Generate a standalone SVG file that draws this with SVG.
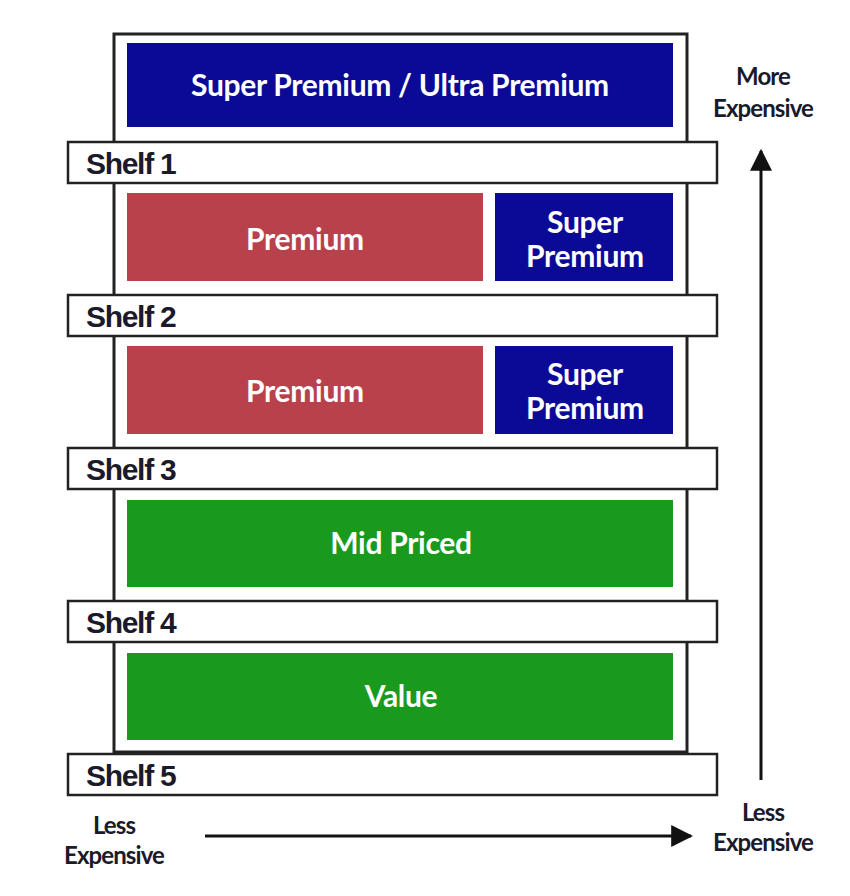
<svg xmlns="http://www.w3.org/2000/svg" width="850" height="896" viewBox="0 0 850 896">
<style>
.frame{fill:#fff;stroke:#222;stroke-width:3}
.shelf{fill:#fff;stroke:#222;stroke-width:2.5}
.blue{fill:#0b0a96}
.red{fill:#b8414c}
.green{fill:#1a9a1d}
.lbl{font-family:Lato,"Liberation Sans",sans-serif;font-weight:bold;fill:#fff;text-anchor:middle;font-size:30px;letter-spacing:-0.3px}
.sh{font-family:"Liberation Sans",Arial,sans-serif;font-weight:bold;font-size:30px;fill:#1a1a2a;letter-spacing:-1.3px}
.side{font-family:Lato,"Liberation Sans",sans-serif;font-weight:bold;font-size:24px;fill:#1a1a2a;text-anchor:middle;letter-spacing:-0.9px}
.arr{stroke:#111;stroke-width:3;fill:none}
</style>
<defs>
<marker id="ah" viewBox="0 0 10 10" refX="9" refY="5" markerWidth="22" markerHeight="22" markerUnits="userSpaceOnUse" orient="auto">
<path d="M0,0 L10,5 L0,10 Z" fill="#111"/>
</marker>
</defs>
<rect width="850" height="896" fill="#fff"/>
<g id="frame"><rect class="frame" x="114" y="34" width="573" height="718"/></g>
<g id="top-block"><rect class="blue" x="127" y="43" width="546" height="84"/><text class="lbl" x="400" y="96">Super Premium / Ultra Premium</text></g>
<g id="shelf1"><rect class="shelf" x="68" y="142" width="649" height="41"/><text class="sh" x="86" y="174">Shelf 1</text></g>
<g id="premium1"><rect class="red" x="127" y="193" width="356" height="88"/><text class="lbl" x="305" y="250">Premium</text></g>
<g id="super1"><rect class="blue" x="495" y="193" width="178" height="88"/><text class="lbl" x="585" y="233">Super</text><text class="lbl" x="585" y="267">Premium</text></g>
<g id="shelf2"><rect class="shelf" x="68" y="295" width="649" height="41"/><text class="sh" x="86" y="327">Shelf 2</text></g>
<g id="premium2"><rect class="red" x="127" y="346" width="356" height="88"/><text class="lbl" x="305" y="402">Premium</text></g>
<g id="super2"><rect class="blue" x="495" y="346" width="178" height="88"/><text class="lbl" x="585" y="385">Super</text><text class="lbl" x="585" y="419">Premium</text></g>
<g id="shelf3"><rect class="shelf" x="68" y="448" width="649" height="41"/><text class="sh" x="86" y="480">Shelf 3</text></g>
<g id="mid"><rect class="green" x="127" y="500" width="546" height="87"/><text class="lbl" x="401" y="554">Mid Priced</text></g>
<g id="shelf4"><rect class="shelf" x="68" y="601" width="649" height="41"/><text class="sh" x="86" y="633">Shelf 4</text></g>
<g id="value"><rect class="green" x="127" y="653" width="546" height="87"/><text class="lbl" x="401" y="707">Value</text></g>
<g id="shelf5"><rect class="shelf" x="68" y="754" width="649" height="41"/><text class="sh" x="86" y="786">Shelf 5</text></g>
<g id="connectors">
<line class="arr" x1="761" y1="780" x2="761" y2="151" marker-end="url(#ah)"/>
<line class="arr" x1="205" y1="836" x2="691" y2="836" marker-end="url(#ah)"/>
</g>
<g id="labels">
<text class="side" x="763" y="85">More</text>
<text class="side" x="763" y="117">Expensive</text>
<text class="side" x="763" y="821">Less</text>
<text class="side" x="763" y="851">Expensive</text>
<text class="side" x="114" y="834">Less</text>
<text class="side" x="114" y="864">Expensive</text>
</g>
</svg>
